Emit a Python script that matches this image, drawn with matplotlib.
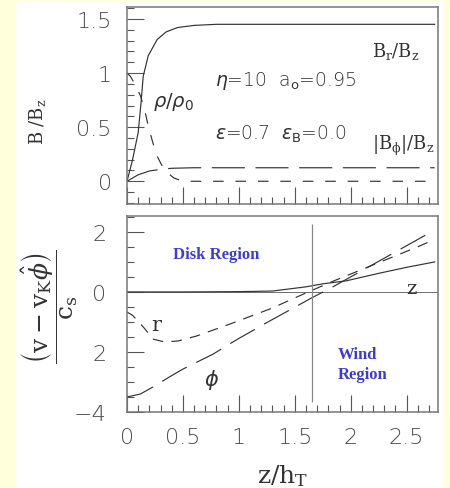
import matplotlib
matplotlib.use("Agg")
import matplotlib.pyplot as plt
from matplotlib.patches import Rectangle
from matplotlib.ticker import MultipleLocator, FixedLocator, FixedFormatter

# ---------------- data ----------------
# top panel: field components and density vs z/h_T
x_br = [0, 0.05, 0.1, 0.125, 0.145, 0.19, 0.27, 0.35, 0.45, 0.6, 0.8, 2.75]
br = [0, 0.2, 0.45, 0.72, 0.97, 1.16, 1.31, 1.38, 1.42, 1.44, 1.45, 1.45]

x_rho = [0, 0.03, 0.08, 0.12, 0.16, 0.19, 0.23, 0.27, 0.32, 0.36, 0.42, 0.5, 2.75]
rho = [1.0, 0.97, 0.88, 0.79, 0.65, 0.51, 0.36, 0.23, 0.13, 0.08, 0.03, 0.0, 0.0]

x_bphi = [0, 0.1, 0.2, 0.3, 0.4, 0.6, 1.0, 2.75]
bphi = [0, 0.06, 0.095, 0.11, 0.12, 0.125, 0.125, 0.125]

# bottom panel: velocity components (v - vK phi)/cs
x_vz = [0, 0.5, 1.0, 1.3, 1.45, 1.6, 1.75, 1.96, 2.25, 2.5, 2.75]
vz = [0, 0, 0.01, 0.03, 0.1, 0.17, 0.27, 0.37, 0.62, 0.82, 1.0]

x_vr = [0, 0.05, 0.1, 0.16, 0.23, 0.34, 0.46, 0.62, 0.92, 1.29, 1.59, 1.85, 2.2, 2.59, 2.75]
vr = [-0.67, -0.78, -0.98, -1.23, -1.57, -1.67, -1.63, -1.47, -1.07, -0.55, -0.05, 0.37, 0.9, 1.49, 1.75]

x_vphi = [0, 0.12, 0.23, 0.38, 0.5, 0.77, 0.99, 1.26, 1.65, 1.85, 2.24, 2.72, 2.75]
vphi = [-3.5, -3.4, -3.17, -2.83, -2.57, -2.07, -1.57, -1.0, -0.2, 0.19, 1.0, 2.0, 2.05]

disk_wind_boundary = 1.65

top_yticks = [0, 0.5, 1, 1.5]
top_yticklabels = ["0", "0.5", "1", "1.5"]
bot_yticks = [-4, -2, 0, 2]
bot_yticklabels = ["\u22124", "2", "0", "2"]
xticks = [0, 0.5, 1, 1.5, 2, 2.5]
xticklabels = ["0", "0.5", "1", "1.5", "2", "2.5"]

# ---------------- figure ----------------
W, H = 450, 489
fig = plt.figure(figsize=(W / 100, H / 100), dpi=100, facecolor="#ffffdc")
fig.patches.append(Rectangle((15 / W, 0), (443 - 15) / W, 1 - 2 / H,
                             transform=fig.transFigure, facecolor="white",
                             edgecolor="none", zorder=-10))

def fx(px):
    return px / W

def fy(py):
    return 1 - py / H

ax1 = fig.add_axes([fx(127), fy(205), fx(438) - fx(127), fy(8) - fy(205)])
ax2 = fig.add_axes([fx(127), fy(413), fx(438) - fx(127), fy(217) - fy(413)])

lc = "#333333"
tick_col = "#4a4a4a"
label_font = dict(family="DejaVu Sans", size=16, weight=200)

for ax in (ax1, ax2):
    ax.set_zorder(5)
    ax.set_facecolor("white")
    for s in ax.spines.values():
        s.set_color("#777777")
        s.set_linewidth(1.1)
    ax.set_xlim(0, 2.78)
    ax.xaxis.set_major_locator(FixedLocator(xticks))
    ax.xaxis.set_minor_locator(MultipleLocator(0.1))
    ax.tick_params(which="both", direction="in", top=False, right=False,
                   color="#555555", width=0.8)
    ax.tick_params(which="major", length=12.5)
    ax.tick_params(which="minor", length=5)
    ax.tick_params(axis="y", which="major", pad=11)
    ax.tick_params(axis="x", which="major", pad=11)

# ---- top panel ----
ax1.plot(x_br, br, color=lc, lw=0.85)
ax1.plot(x_rho, rho, color=lc, lw=0.85, dashes=(9, 10))
ax1.plot(x_bphi, bphi, color=lc, lw=0.85, dashes=(28, 9))
ax1.set_ylim(-0.21, 1.61)
ax1.yaxis.set_major_locator(FixedLocator(top_yticks))
ax1.yaxis.set_major_formatter(FixedFormatter(top_yticklabels))
ax1.yaxis.set_minor_locator(MultipleLocator(0.1))
ax1.set_xticklabels([])
for t in ax1.get_yticklabels():
    t.set_fontfamily(label_font["family"])
    t.set_fontsize(label_font["size"])
    t.set_fontweight(label_font["weight"])
    t.set_color(tick_col)

ax1.text(2.19, 1.21, r"$\mathrm{B_r/B_z}$", fontsize=13, color=lc,
         ha="left", va="center", math_fontfamily="dejavuserif")
ax1.text(0.79, 0.94, r"$\eta$=10  a$_\mathrm{o}$=0.95", fontsize=13.5, color=lc,
         ha="left", va="center", family="DejaVu Sans", fontweight=200)
ax1.text(0.79, 0.44, r"$\epsilon$=0.7  $\epsilon_\mathrm{B}$=0.0", fontsize=13.5,
         color=lc, ha="left", va="center", family="DejaVu Sans", fontweight=200)
ax1.text(0.23, 0.74, r"$\rho/\rho_0$", fontsize=14, color=lc,
         ha="left", va="center")
ax1.text(2.19, 0.34, r"$\mathrm{|B_\phi|/B_z}$", fontsize=13, color=lc,
         ha="left", va="center", math_fontfamily="dejavuserif")

fig.text(fx(37), fy(122), r"$\mathrm{B\ /B_z}$", rotation=90, fontsize=13,
         color=lc, ha="center", va="center", math_fontfamily="dejavuserif")

# ---- bottom panel ----
ax2.axhline(0, color="#555555", lw=0.6, zorder=1)
ax2.plot(x_vz, vz, color=lc, lw=0.85)
ax2.plot(x_vr, vr, color=lc, lw=0.85, dashes=(9, 7))
ax2.plot(x_vphi, vphi, color=lc, lw=0.85, dashes=(24, 9))
ax2.set_ylim(-4, 2.53)
ax2.vlines(disk_wind_boundary, -3.67, 2.27, color="#888888", lw=0.9)
ax2.yaxis.set_major_locator(FixedLocator(bot_yticks))
ax2.yaxis.set_major_formatter(FixedFormatter(bot_yticklabels))
ax2.yaxis.set_minor_locator(MultipleLocator(0.5))
ax2.xaxis.set_major_formatter(FixedFormatter(xticklabels))
ax2.tick_params(axis="y", which="major", pad=15)
for t in ax2.get_yticklabels() + ax2.get_xticklabels():
    t.set_fontfamily(label_font["family"])
    t.set_fontsize(label_font["size"])
    t.set_fontweight(label_font["weight"])
    t.set_color(tick_col)

ax2.text(0.26, -1.1, "r", fontsize=15, color=lc, ha="center", va="center",
         family="DejaVu Serif")
ax2.text(0.76, -2.9, r"$\phi$", fontsize=15, color=lc, ha="center", va="center")
ax2.text(2.54, 0.13, "z", fontsize=14, color=lc, ha="center", va="center",
         family="DejaVu Serif")

blue = "#3c3cd2"
ax2.text(0.80, 1.27, "Disk Region", fontsize=12, color=blue, ha="center",
         va="center", family="Liberation Serif", fontweight="bold")
ax2.text(1.88, -2.4, "Wind\nRegion", fontsize=12, color=blue, ha="left",
         va="center", family="Liberation Serif", fontweight="bold",
         linespacing=1.35)

fig.text(fx(283), fy(476), r"$\mathrm{z/h_T}$", fontsize=18, color=lc,
         ha="center", va="center", math_fontfamily="dejavuserif")
fig.text(fx(50), fy(307),
         r"$\dfrac{\left(\mathrm{v}-\mathrm{v_K}\hat{\phi}\right)}{\mathrm{c_s}}$",
         rotation=90, fontsize=18, color=lc, ha="center", va="center",
         math_fontfamily="dejavuserif")

fig.savefig("out.png", dpi=100, facecolor=fig.get_facecolor())
